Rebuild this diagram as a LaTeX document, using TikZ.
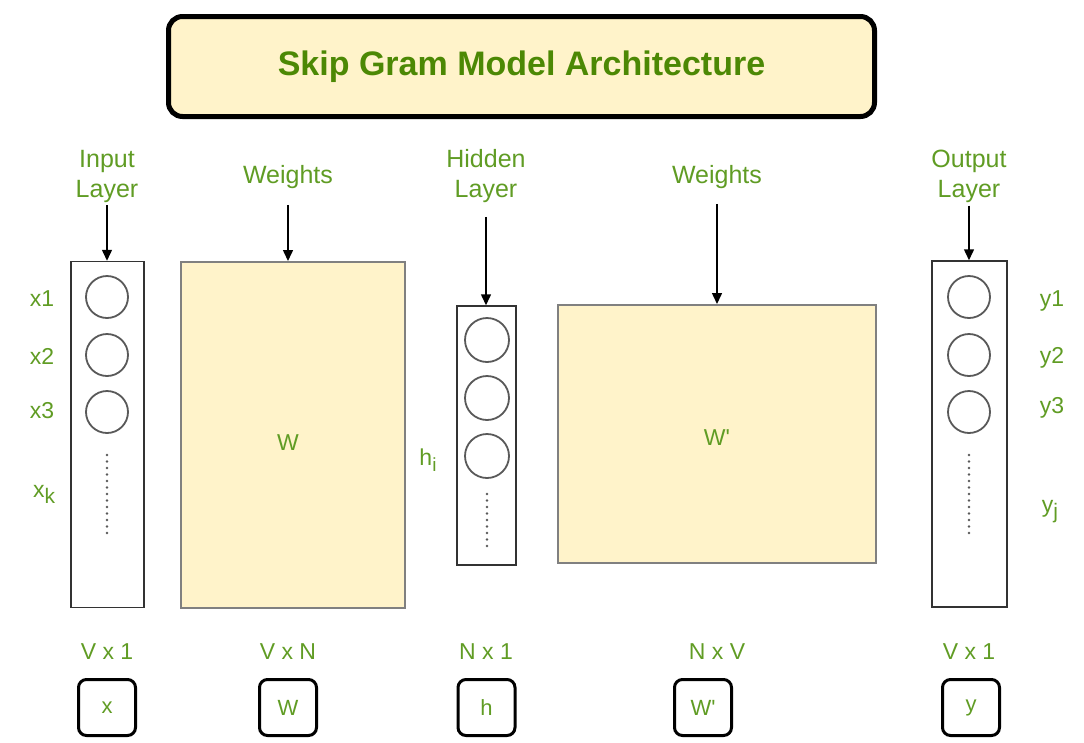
\documentclass[tikz,border=0pt]{standalone}
\usepackage{fontspec}
\setmainfont{Liberation Sans}
\newfontfamily\plainsans{Liberation Sans}
\usetikzlibrary{arrows.meta, positioning}
\definecolor{titlegreen}{RGB}{76,136,4}
\definecolor{lblgreen}{RGB}{96,156,36}
\definecolor{cream}{RGB}{255,243,202}
\begin{document}
\begin{tikzpicture}[x=1pt, y=-1pt,
    layer/.style={draw=black!80, line width=1.5pt, minimum width=73pt, minimum height=346pt, inner sep=0pt},
    neuron/.style={circle, draw=black!65, line width=1.8pt, minimum size=42pt, inner sep=0pt},
    matbox/.style={draw=black!50, line width=2pt, fill=cream, inner sep=0pt},
    lbl/.style={text=lblgreen, align=center, inner sep=0pt, font=\fontsize{25}{30}\selectfont},
    side/.style={text=lblgreen, inner sep=0pt, font=\fontsize{23}{26}\selectfont},
    dim/.style={text=lblgreen, inner sep=0pt, font=\fontsize{23}{26}\selectfont},
    vecbox/.style={draw, rounded corners=8pt, line width=3pt, minimum width=57pt, minimum height=56pt, inner sep=0pt, text=lblgreen, font=\fontsize{22}{24}\selectfont},
    dots/.style={line width=2.8pt, black!65, dash pattern=on 0pt off 6.5pt, line cap=round},
    arrow/.style={-{Triangle[length=11pt, width=10pt]}, line width=1.5pt}
]
    \useasboundingbox (0,0) rectangle (1084,742);

    % Title
    \node[draw, line width=5pt, rounded corners=14pt, fill=cream, minimum width=706pt, minimum height=100pt, text=titlegreen, font=\fontsize{34}{40}\selectfont\bfseries] (title) at (521.5,66.5) {Skip Gram Model Architecture};

    % Input layer
    \node[lbl] (inlbl) at (107,176) {Input\\Layer};
    \node[layer] (inbox) at (107.5,434.5) {};
    \foreach \y [count=\i] in {297,355,412}
        \node[neuron] (in\i) at (107,\y) {};
    \coordinate (indot1) at (107,455);
    \coordinate (indot2) at (107,535);
    \draw[dots] (indot1) -- (indot2);
    \node[side] (x1) at (42,299) {x1};
    \node[side] (x2) at (42,356) {x2};
    \node[side] (x3) at (42,411) {x3};
    \node[side] (xk) at (44,494) {x\raisebox{-6pt}{\fontsize{21}{21}\selectfont k}};

    % First weights
    \node[lbl] (w1lbl) at (288,177) {Weights};
    \node[matbox, minimum width=224pt, minimum height=346pt] (w1box) at (292.5,435) {};
    \node[side] (w1txt) at (288,443) {W};

    % Hidden layer
    \node[lbl] (hidlbl) at (486,176) {Hidden\\Layer};
    \node[layer, minimum width=59pt, minimum height=259pt] (hidbox) at (486.5,435.5) {};
    \foreach \y [count=\i] in {340,398,456}
        \node[neuron, minimum size=44pt] (hid\i) at (487,\y) {};
    \coordinate (hiddot1) at (487,494);
    \coordinate (hiddot2) at (487,548);
    \draw[dots] (hiddot1) -- (hiddot2);
    \node[side] (hi) at (428,460) {h\raisebox{-6pt}{\fontsize{19}{19}\selectfont i}};

    % Second weights
    \node[lbl] (w2lbl) at (717,177) {Weights};
    \node[matbox, minimum width=318pt, minimum height=258pt] (w2box) at (717,434) {};
    \node[side] (w2txt) at (717,438) {\plainsans W'};

    % Output layer
    \node[lbl] (outlbl) at (969,176) {Output\\Layer};
    \node[layer, minimum width=75pt] (outbox) at (969.5,434) {};
    \foreach \y [count=\i] in {297,355,412}
        \node[neuron] (out\i) at (969,\y) {};
    \coordinate (outdot1) at (969,455);
    \coordinate (outdot2) at (969,537);
    \draw[dots] (outdot1) -- (outdot2);
    \node[side] (y1) at (1052,301) {y1};
    \node[side] (y2) at (1052,358) {y2};
    \node[side] (y3) at (1052,408) {y3};
    \node[side] (yj) at (1050,512) {y\raisebox{-6pt}{\fontsize{21}{21}\selectfont j}};

    % Arrows
    \draw[arrow, shorten <=3pt] (inlbl.south) -- (inlbl.south |- inbox.north);
    \draw[arrow, shorten <=16pt] (w1lbl.south) -- (w1lbl.south |- w1box.north);
    \draw[arrow, shorten <=14pt] (hidlbl.south) -- (hidlbl.south |- hidbox.north);
    \draw[arrow, shorten <=15pt] (w2lbl.south) -- (w2lbl.south |- w2box.north);
    \draw[arrow, shorten <=3pt] (outlbl.south) -- (outlbl.south |- outbox.north);

    % Dimensions
    \node[dim] (dimx) at (107,652) {V x 1};
    \node[dim] (dimw1) at (288,652) {V x N};
    \node[dim] (dimh) at (486,652) {N x 1};
    \node[dim] (dimw2) at (717,652) {N x V};
    \node[dim] (dimy) at (969,652) {V x 1};

    % Vector names
    \node[vecbox] (vx) at (107,707.5) {x};
    \node[vecbox] (vw1) at (288,707.5) {W};
    \node[vecbox] (vh) at (486.5,707.5) {h};
    \node[vecbox] (vw2) at (703,707.5) {\plainsans W'};
    \node[vecbox] (vy) at (971,707.5) {y};
\end{tikzpicture}
\end{document}
